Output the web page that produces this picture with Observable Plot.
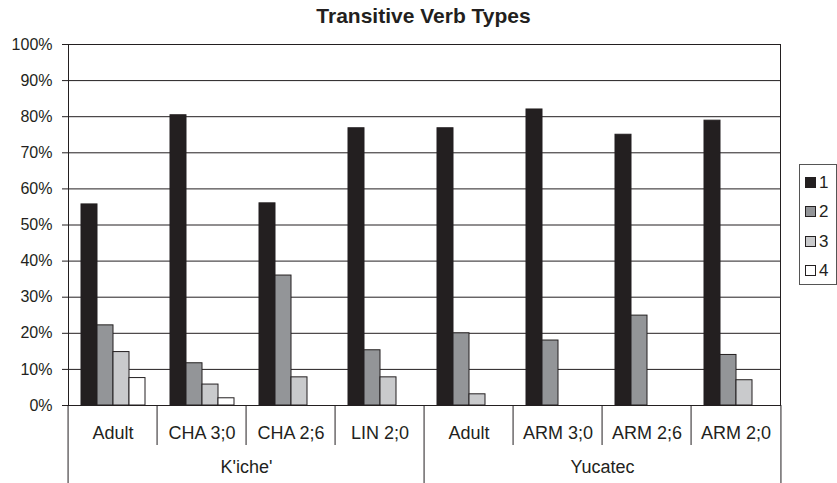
<!DOCTYPE html>
<html>
<head>
<meta charset="utf-8">
<script src="https://cdn.jsdelivr.net/npm/d3@7"></script>
<script src="https://cdn.jsdelivr.net/npm/@observablehq/plot@0.6"></script>
<style>
  body { margin: 0; background: #fff; font-family: "Liberation Sans", Arial, sans-serif; color: #231f20; }
  #wrap { position: relative; width: 837px; height: 483px; }
  #title { position: absolute; left: 64px; width: 719px; top: 5px; text-align: center; font-weight: bold; font-size: 21px; line-height: 21px; }
  #legend { position: absolute; left: 799px; top: 164px; width: 38px; height: 121px; border: 1px solid #555; box-sizing: border-box; padding-top: 3px; }
  .item { height: 29.3px; display: flex; align-items: center; }
  .sw { width: 11px; height: 11px; border: 1px solid #231f20; box-sizing: border-box; margin-left: 5px; }
  .lb { font-size: 17px; margin-left: 3px; line-height: 17px; }
  #chart { position: absolute; left: 0; top: 0; }
</style>
</head>
<body>
<div id="wrap">
  <div id="chart"></div>
  <div id="title">Transitive Verb Types</div>
  <div id="legend"></div>
</div>
<script>
// ---- data ----
const categories = ["Adult", "CHA 3;0", "CHA 2;6", "LIN 2;0", "Adult", "ARM 3;0", "ARM 2;6", "ARM 2;0"];
const groupNames = ["K'iche'", "Yucatec"];
const groupOfCategory = [0, 0, 0, 0, 1, 1, 1, 1];
const series = ["1", "2", "3", "4"];
const series1 = [0.557, 0.804, 0.560, 0.768, 0.768, 0.820, 0.750, 0.789];
const series2 = [0.222, 0.117, 0.360, 0.153, 0.200, 0.180, 0.249, 0.140];
const series3 = [0.148, 0.058, 0.078, 0.078, 0.031, 0, 0, 0.070];
const series4 = [0.076, 0.020, 0, 0, 0, 0, 0, 0];
const yTicks = [0, 0.1, 0.2, 0.3, 0.4, 0.5, 0.6, 0.7, 0.8, 0.9, 1.0];
const colors = ["#231f20", "#939598", "#c9cacc", "#ffffff"];

const seriesValues = [series1, series2, series3, series4];
const rows = [];
categories.forEach((c, i) => {
  series.forEach((s, j) => {
    const v = seriesValues[j][i];
    if (v > 0) rows.push({cat: i, series: s, value: v});
  });
});

// group label sits on the boundary between 2nd and 3rd category of each group
const groupLabels = groupNames.map((g, k) => {
  const members = categories.map((_, i) => i).filter(i => groupOfCategory[i] === k);
  return {cat: members[1], label: g};
});
const groupStarts = groupNames.map((_, k) => groupOfCategory.indexOf(k));
const innerBoundaries = categories.map((_, i) => i).filter(i => i > 0 && !groupStarts.includes(i));

const W = 837, H = 483, mL = 64, mR = 54, mT = 44, mB = 78;
const step = (W - mL - mR) / categories.length;
const ink = "#231f20";

const chart = Plot.plot({
  width: W, height: H,
  marginTop: mT, marginBottom: mB, marginLeft: mL, marginRight: mR,
  style: {fontFamily: '"Liberation Sans", Arial, sans-serif', fontSize: "16px", color: ink, background: "white"},
  fx: {domain: d3.range(categories.length), padding: 0, axis: null},
  x: {domain: series, paddingInner: 0, paddingOuter: 0.67, axis: null},
  y: {domain: [0, 1], axis: null},
  color: {domain: series, range: colors},
  marks: [
    Plot.ruleY(yTicks.filter(d => d > 0), {stroke: ink, strokeWidth: 1}),
    Plot.barY(rows, {fx: "cat", x: "series", y: "value", fill: "series", stroke: ink, strokeWidth: 1}),
    Plot.ruleY([0], {stroke: ink, strokeWidth: 1}),
    Plot.axisY({ticks: yTicks, tickFormat: d => Math.round(d * 100) + "%", tickSize: 6, tickPadding: 10, fontSize: 16, anchor: "left", label: null, stroke: ink}),
    Plot.frame({anchor: "left", facet: "super", stroke: ink}),
    Plot.frame({anchor: "right", facet: "super", stroke: ink}),
    Plot.axisFx({anchor: "bottom", tickSize: 0, tickPadding: 21, fontSize: 18, tickFormat: i => categories[i], label: null}),
    Plot.axisFx({anchor: "bottom", ticks: innerBoundaries, tickSize: 40, text: null, dx: -step / 2, stroke: ink, label: null}),
    Plot.axisFx({anchor: "bottom", ticks: groupStarts, tickSize: mB, text: null, dx: -step / 2, stroke: ink, label: null}),
    Plot.axisFx({anchor: "bottom", ticks: [categories.length - 1], tickSize: mB, text: null, dx: step / 2, stroke: ink, label: null}),
    Plot.text(groupLabels, {fx: "cat", text: "label", frameAnchor: "bottom-right", textAnchor: "middle", lineAnchor: "middle", dy: 62, fontSize: 18, fill: ink})
  ]
});
document.getElementById("chart").appendChild(chart);

// legend
const legend = document.getElementById("legend");
series.forEach((s, j) => {
  const item = document.createElement("div");
  item.className = "item";
  const sw = document.createElement("div");
  sw.className = "sw";
  sw.style.background = colors[j];
  const lb = document.createElement("span");
  lb.className = "lb";
  lb.textContent = s;
  item.appendChild(sw);
  item.appendChild(lb);
  legend.appendChild(item);
});
</script>
</body>
</html>
